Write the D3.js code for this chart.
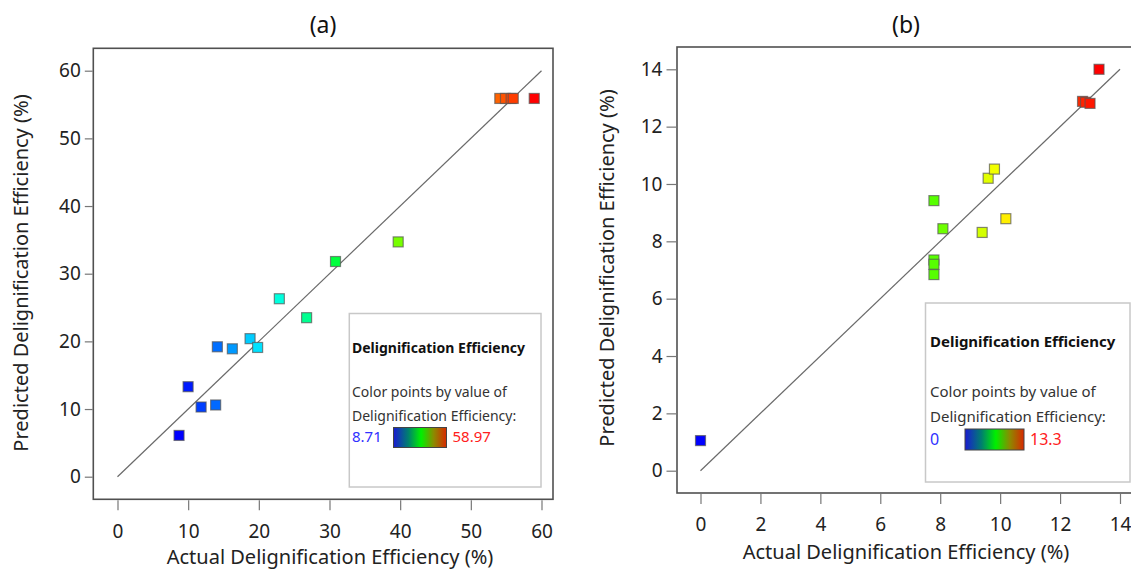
<!DOCTYPE html>
<html>
<head>
<meta charset="utf-8">
<script src="https://cdn.jsdelivr.net/npm/d3@7"></script>
<style>
  html, body { margin: 0; padding: 0; background: #fff; }
  svg { display: block; font-family: "Noto Sans", "Open Sans", sans-serif; }
</style>
</head>
<body>
<svg id="chart" width="1131" height="570"></svg>
<script>
// ---- Data: panel (a) ----
const actualA    = [8.71, 9.99, 11.83, 13.89, 14.13, 16.25, 18.76, 19.83, 22.90, 26.76, 30.85, 39.72, 54.1, 54.9, 55.7, 56.0, 58.97];
const predictedA = [6.1, 13.3, 10.3, 10.6, 19.2, 18.9, 20.4, 19.1, 26.3, 23.5, 31.8, 34.7, 55.9, 55.9, 55.9, 55.9, 55.9];
const ticksA     = [0, 10, 20, 30, 40, 50, 60];
const rangeA     = [8.71, 58.97];
const legendLabelsA = ["8.71", "58.97"];

// ---- Data: panel (b) ----
const actualB    = [0, 7.79, 7.79, 7.79, 7.79, 8.09, 9.4, 9.6, 9.81, 10.19, 12.75, 12.85, 13.0, 13.3];
const predictedB = [1.05, 9.42, 7.35, 7.2, 6.84, 8.44, 8.31, 10.2, 10.52, 8.79, 12.88, 12.85, 12.81, 14.0];
const ticksB     = [0, 2, 4, 6, 8, 10, 12, 14];
const rangeB     = [0, 13.3];
const legendLabelsB = ["0", "13.3"];

const panelTitles = ["(a)", "(b)"];
const xTitle = "Actual Delignification Efficiency (%)";
const yTitle = "Predicted Delignification Efficiency (%)";
const legendTitle = "Delignification Efficiency";
const legendLine1 = "Color points by value of";
const legendLine2 = "Delignification Efficiency:";

const svg = d3.select("#chart");

// Gradient for legend colour bar
const defs = svg.append("defs");
const grad = defs.append("linearGradient").attr("id", "lg").attr("x1", "0%").attr("x2", "100%");
[[0, "#1a1ad2"], [0.28, "#00806e"], [0.52, "#00f000"], [0.76, "#8c8a00"], [1, "#d82800"]]
  .forEach(([o, c]) => grad.append("stop").attr("offset", o).attr("stop-color", c));

function pointColor(v, lo, hi) {
  const t = Math.max(0, Math.min(1, (v - lo) / (hi - lo)));
  return d3.hsl(240 * (1 - t), 1, 0.5).toString();
}

function drawPanel(p) {
  const g = svg.append("g");
  const x = d3.scaleLinear().domain(p.domain).range(p.xRange);
  const y = d3.scaleLinear().domain(p.domain).range(p.yRange);

  // frame
  g.append("rect")
    .attr("x", p.frame.l).attr("y", p.frame.t)
    .attr("width", p.frame.r - p.frame.l).attr("height", p.frame.b - p.frame.t)
    .attr("fill", "none").attr("stroke", "#505050").attr("stroke-width", 1.6);

  // axes
  const xa = g.append("g").attr("transform", `translate(0,${p.frame.b + 1})`)
    .call(d3.axisBottom(x).tickValues(p.ticks).tickSize(p.xTickSize).tickPadding(p.xTickPad));
  const ya = g.append("g").attr("transform", `translate(${p.frame.l - 0.5},0)`)
    .call(d3.axisLeft(y).tickValues(p.ticks).tickSize(p.yTickSize).tickPadding(4));
  [xa, ya].forEach(a => {
    a.select(".domain").remove();
    a.selectAll(".tick line").attr("stroke", "#777").attr("stroke-width", 1.2);
    a.selectAll(".tick text").attr("fill", "#222").style("font-size", "19px")
      .style("font-family", "'Noto Sans', 'Open Sans', sans-serif");
  });

  // diagonal reference line
  g.append("line")
    .attr("x1", x(0)).attr("y1", y(0))
    .attr("x2", x(p.domain[1])).attr("y2", y(p.domain[1]))
    .attr("stroke", "#6a6a6a").attr("stroke-width", 1.2);

  // points
  const pts = p.actual.map((a, i) => ({ a, pr: p.predicted[i] }));
  g.selectAll("rect.pt").data(pts).enter().append("rect")
    .attr("class", "pt")
    .attr("x", d => x(d.a) - 5).attr("y", d => y(d.pr) - 5)
    .attr("width", 10).attr("height", 10)
    .attr("fill", d => pointColor(d.a, p.cRange[0], p.cRange[1]))
    .attr("stroke", "#555").attr("stroke-opacity", 0.7).attr("stroke-width", 1.2);

  // titles
  g.append("text").attr("x", p.titleX).attr("y", 33).attr("text-anchor", "middle")
    .style("font-size", "23px").attr("fill", "#111").text(p.title);
  g.append("text").attr("x", p.xTitleX).attr("y", p.xTitleY).attr("text-anchor", "middle")
    .style("font-size", "20px").attr("fill", "#222").text(xTitle);
  g.append("text").attr("transform", `translate(${p.yTitleX},${p.yTitleY}) rotate(-90)`)
    .attr("text-anchor", "middle").style("font-size", "20px").attr("fill", "#222").text(yTitle);

  // legend
  const L = p.legend;
  g.append("rect").attr("x", L.l).attr("y", L.t).attr("width", L.r - L.l).attr("height", L.b - L.t)
    .attr("fill", "#fff").attr("stroke", "#c8c8c8").attr("stroke-width", 1.5);
  g.append("text").attr("x", L.tx).attr("y", L.y1).style("font-size", L.fs + "px")
    .style("font-weight", "bold").attr("fill", "#111").text(legendTitle);
  g.append("text").attr("x", L.tx).attr("y", L.y2).style("font-size", L.fs + "px")
    .attr("fill", "#333").text(legendLine1);
  g.append("text").attr("x", L.tx).attr("y", L.y3).style("font-size", L.fs + "px")
    .attr("fill", "#333").text(legendLine2);
  g.append("text").attr("x", L.tx).attr("y", L.y4).style("font-size", (L.fs + 1) + "px")
    .attr("fill", "#3030ff").text(p.legendLabels[0]);
  g.append("rect").attr("x", L.bx).attr("y", L.by).attr("width", L.bw).attr("height", L.bh)
    .attr("fill", "url(#lg)").attr("stroke", "#444").attr("stroke-width", 1);
  g.append("text").attr("x", L.bx + L.bw + 6).attr("y", L.y4).style("font-size", (L.fs + 1) + "px")
    .attr("fill", "#ff2020").text(p.legendLabels[1]);
}

drawPanel({
  actual: actualA, predicted: predictedA, ticks: ticksA, cRange: rangeA, legendLabels: legendLabelsA,
  domain: [0, 60], xRange: [117.5, 541.5], yRange: [476.7, 70.7],
  frame: { l: 93.3, r: 553, t: 48.3, b: 499.3 },
  xTickSize: 10, xTickPad: 14, yTickSize: 8,
  title: panelTitles[0], titleX: 323,
  xTitleX: 330, xTitleY: 564, yTitleX: 28, yTitleY: 273,
  legend: { l: 349.3, r: 541, t: 313.5, b: 487, tx: 352, fs: 14,
            y1: 353, y2: 397, y3: 420.5, y4: 442, bx: 393.5, by: 427.5, bw: 53, bh: 20 }
});

drawPanel({
  actual: actualB, predicted: predictedB, ticks: ticksB, cRange: rangeB, legendLabels: legendLabelsB,
  domain: [0, 14], xRange: [700.5, 1120], yRange: [470.7, 69.3],
  frame: { l: 677, r: 1145, t: 47, b: 493 },
  xTickSize: 10, xTickPad: 14, yTickSize: 10,
  title: panelTitles[1], titleX: 906,
  xTitleX: 906, xTitleY: 559, yTitleX: 614, yTitleY: 268,
  legend: { l: 925.5, r: 1130, t: 303, b: 482, tx: 930, fs: 15,
            y1: 347, y2: 397, y3: 421.5, y4: 445, bx: 965, by: 429, bw: 59, bh: 21 }
});
</script>
</body>
</html>
